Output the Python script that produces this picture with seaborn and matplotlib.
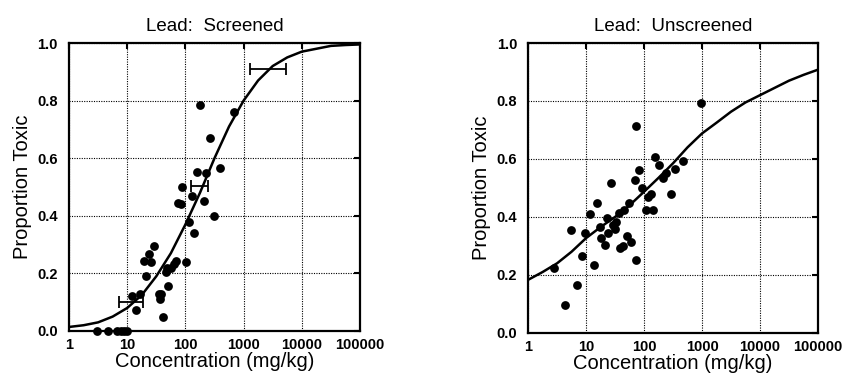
import numpy as np
import pandas as pd
import matplotlib
matplotlib.use("Agg")
import matplotlib.pyplot as plt
import seaborn as sns

# ---- Data ----
# Left panel: Lead, screened
scr_conc = [3, 4.7, 6.6, 7.8, 8.9, 10, 12, 14, 16.7, 19.6, 21, 23.6, 25.5, 29,
            34.6, 36, 38, 41, 45.7, 48, 51, 57, 63, 69, 75, 85, 87, 102, 115,
            130, 138, 158, 175, 205, 230, 262, 306, 398, 676]
scr_prop = [0, 0, 0, 0, 0, 0, 0.12, 0.072, 0.128, 0.244, 0.19, 0.267, 0.24, 0.296,
            0.13, 0.11, 0.13, 0.049, 0.205, 0.22, 0.155, 0.22, 0.234, 0.244, 0.443,
            0.44, 0.50, 0.24, 0.38, 0.47, 0.34, 0.553, 0.785, 0.45, 0.548, 0.67,
            0.40, 0.567, 0.759]
# horizontal interval markers (left, right, level)
scr_int_lo = [7.1, 125, 1290]
scr_int_hi = [18.6, 240, 5250]
scr_int_y = [0.099, 0.505, 0.91]
# fitted curve
scr_curve_x = [1, 1.78, 3.16, 5.62, 10, 17.8, 31.6, 56.2, 100, 178, 316, 562,
               1000, 1778, 3162, 5623, 10000, 17783, 31623, 56234, 100000]
scr_curve_y = [0.014, 0.02, 0.03, 0.05, 0.08, 0.125, 0.19, 0.27, 0.37, 0.48, 0.60,
               0.71, 0.80, 0.87, 0.92, 0.95, 0.97, 0.98, 0.99, 0.993, 0.995]

# Right panel: Lead, unscreened
uns_conc = [2.8, 4.4, 5.6, 7.0, 8.5, 9.4, 11.8, 13.5, 15.5, 17.3, 18.3, 21.3, 23.4,
            24, 27.3, 29, 31, 33, 37, 38, 42.5, 44.6, 50, 56, 59, 69, 74, 74, 82,
            93, 110, 117, 130, 142, 157, 181, 212, 243, 295, 338, 470, 970]
uns_prop = [0.224, 0.097, 0.355, 0.164, 0.264, 0.344, 0.409, 0.235, 0.447, 0.364,
            0.327, 0.304, 0.396, 0.344, 0.516, 0.373, 0.358, 0.384, 0.413, 0.292,
            0.298, 0.424, 0.335, 0.447, 0.315, 0.528, 0.713, 0.252, 0.562, 0.50,
            0.424, 0.47, 0.48, 0.424, 0.608, 0.579, 0.533, 0.55, 0.48, 0.564,
            0.594, 0.794]
uns_curve_x = scr_curve_x
uns_curve_y = [0.183, 0.21, 0.24, 0.28, 0.327, 0.365, 0.40, 0.44, 0.487, 0.535,
               0.585, 0.64, 0.688, 0.725, 0.763, 0.795, 0.82, 0.845, 0.87, 0.89, 0.908]

titles = ["Lead:  Screened", "Lead:  Unscreened"]
xticks = [1, 10, 100, 1000, 10000, 100000]
xticklabels = ["1", "10", "100", "1000", "10000", "100000"]
yticks = [0.0, 0.2, 0.4, 0.6, 0.8, 1.0]
yticklabels = ["0.0", "0.2", "0.4", "0.6", "0.8", "1.0"]

sns.set_theme(style="white")
plt.rcParams['font.family'] = ['Liberation Sans', 'DejaVu Sans']

fig = plt.figure(figsize=(8.45, 3.74), dpi=100)
ax1 = fig.add_axes([0.0817, 0.115, 0.3443, 0.770])
ax2 = fig.add_axes([0.625, 0.110, 0.343, 0.775])

panels = [
    (ax1, scr_conc, scr_prop, scr_curve_x, scr_curve_y, titles[0]),
    (ax2, uns_conc, uns_prop, uns_curve_x, uns_curve_y, titles[1]),
]

for ax, cx, cy, lx, ly, title in panels:
    ax.set_xscale("log")
    ax.set_xlim(1, 100000)
    ax.set_ylim(0, 1.0)
    ax.grid(True, which="major", color="black", linestyle=(0, (1, 1.2)), linewidth=0.8)
    ax.set_axisbelow(True)
    sns.lineplot(x=lx, y=ly, ax=ax, color="black", linewidth=1.8, zorder=3)
    sns.scatterplot(x=cx, y=cy, ax=ax, color="black", s=40, edgecolor="black",
                    linewidth=0, zorder=4, clip_on=False)
    ax.set_xticks(xticks)
    ax.set_xticklabels(xticklabels)
    ax.set_yticks(yticks)
    ax.set_yticklabels(yticklabels)
    ax.minorticks_off()
    ax.tick_params(axis="both", direction="in", length=4, width=1.5, color="black",
                   labelsize=10.5, top=True, right=True, pad=8, labelcolor="black")
    ax.tick_params(axis="x", pad=5)
    for lab in ax.get_xticklabels() + ax.get_yticklabels():
        lab.set_fontweight("bold")
    for sp in ax.spines.values():
        sp.set_visible(True)
        sp.set_color("black")
        sp.set_linewidth(1.6)
    ax.set_xlabel("Concentration (mg/kg)", fontsize=14.5, labelpad=0, color="black")
    ax.set_ylabel("Proportion Toxic", fontsize=14.5, labelpad=4, color="black")
    ax.set_title(title, fontsize=13.5, pad=9, color="black")

# horizontal interval markers on the screened panel
ax1.errorbar(x=[np.sqrt(lo * hi) for lo, hi in zip(scr_int_lo, scr_int_hi)],
             y=scr_int_y,
             xerr=[[np.sqrt(lo * hi) - lo for lo, hi in zip(scr_int_lo, scr_int_hi)],
                   [hi - np.sqrt(lo * hi) for lo, hi in zip(scr_int_lo, scr_int_hi)]],
             fmt="none", ecolor="black", elinewidth=1.3, capsize=4, capthick=1.3, zorder=5)

fig.savefig("out.png", dpi=100, facecolor="white")
